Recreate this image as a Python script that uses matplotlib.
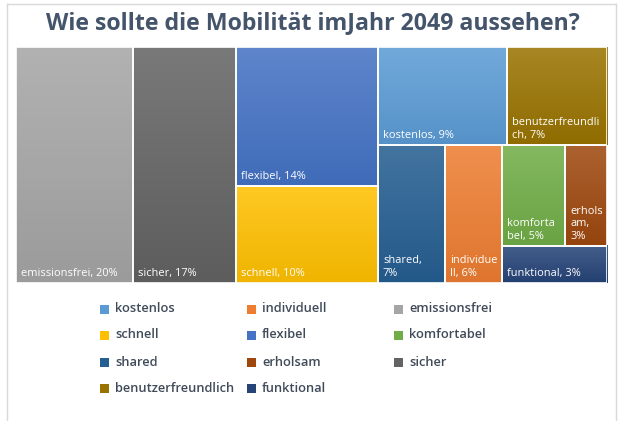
import matplotlib
matplotlib.use("Agg")
import matplotlib.pyplot as plt
import matplotlib.patches as patches
from matplotlib.lines import Line2D
from matplotlib.colors import to_rgb
import numpy as np

plt.rcParams['font.family'] = ['Open Sans', 'DejaVu Sans']

# data (Anteile in %, aus dem Bild geschaetzt)
names = ["kostenlos", "individuell", "emissionsfrei", "schnell", "flexibel",
         "komfortabel", "shared", "erholsam", "sicher", "benutzerfreundlich",
         "funktional"]
values = [9.0, 5.6, 19.8, 9.9, 14.1, 4.6, 6.6, 3.0, 17.2, 7.0, 2.8]
colors = ["#5B9BD5", "#ED7D31", "#A5A5A5", "#FFC000", "#4472C4", "#70AD47",
          "#255E91", "#9E480E", "#636363", "#997300", "#264478"]

# how the labels wrap inside the small boxes
label_fmt = {
    "benutzerfreundlich": "benutzerfreundli\nch, {p}%",
    "shared": "shared,\n{p}%",
    "individuell": "individue\nll, {p}%",
    "komfortabel": "komforta\nbel, {p}%",
    "erholsam": "erhols\nam,\n{p}%",
}

# treemap nesting: level 0 splits horizontally, level 1 vertically, ...
layout = ["emissionsfrei", "sicher", ["flexibel", "schnell"],
          [["kostenlos", "benutzerfreundlich"],
           ["shared", "individuell", [["komfortabel", "erholsam"], "funktional"]]]]

val = dict(zip(names, values))
col = dict(zip(names, colors))
total_all = sum(values)


def node_sum(node):
    if isinstance(node, str):
        return val[node]
    return sum(node_sum(c) for c in node)


rects = {}


def split(node, x, y, w, h, depth):
    if isinstance(node, str):
        rects[node] = (x, y, w, h)
        return
    s = node_sum(node)
    pos = 0.0
    for c in node:
        f = node_sum(c) / s
        if depth % 2 == 0:
            split(c, x + pos * w, y, w * f, h, depth + 1)
        else:
            split(c, x, y + pos * h, w, h * f, depth + 1)
        pos += f


split(layout, 0.0, 0.0, 1.0, 1.0, 0)

W, H = 626, 421
fig = plt.figure(figsize=(W / 100, H / 100), dpi=100)
fig.patch.set_facecolor("white")

# chart frame
frame = "#D9D9D9"
fig.add_artist(Line2D([7 / W, 7 / W], [0, 1 - 4 / H], color=frame, lw=1))
fig.add_artist(Line2D([616 / W, 616 / W], [0, 1 - 4 / H], color=frame, lw=1))
fig.add_artist(Line2D([7 / W, 616 / W], [1 - 4 / H, 1 - 4 / H], color=frame, lw=1))

fig.text(313 / W, 1 - 23 / H, "Wie sollte die Mobilität imJahr 2049 aussehen?",
         ha="center", va="center", fontsize=16.7, fontweight="bold", color="#44546A")

ax = fig.add_axes([16 / W, (H - 283) / H, 591 / W, 236 / H])


def shade(c, amt):
    r = np.array(to_rgb(c))
    if amt > 0:
        return r + (1 - r) * amt
    return r * (1 + amt)


for n in names:
    x, y, w, h = rects[n]
    top = shade(col[n], 0.14)
    bot = shade(col[n], -0.06)
    t = np.linspace(0, 1, 64)[:, None]
    grad = (top[None, :] * (1 - t) + bot[None, :] * t)[:, None, :]
    ax.imshow(grad, extent=(x, x + w, y + h, y), origin="upper",
              aspect="auto", interpolation="bilinear", zorder=1)
    ax.add_patch(patches.Rectangle((x, y), w, h, fill=False,
                                   edgecolor="white", lw=1.2, zorder=2))
    p = round(val[n] / total_all * 100)
    txt = label_fmt.get(n, n + ", {p}%").format(p=p)
    ax.annotate(txt, xy=(x, y + h), xytext=(5, 4), textcoords="offset pixels",
                ha="left", va="bottom", color="white", fontsize=7.9,
                linespacing=1.2, zorder=3)

ax.set_xlim(0, 1)
ax.set_ylim(1, 0)
ax.axis("off")

# legend, row by row in 3 columns
leg_x = [100, 247, 394]
leg_y = [309, 335, 362, 388]
for i, n in enumerate(names):
    cx = leg_x[i % 3]
    cy = leg_y[i // 3]
    fig.add_artist(patches.Rectangle((cx / W, 1 - (cy + 4.5) / H), 9 / W, 9 / H,
                                     transform=fig.transFigure,
                                     facecolor=col[n], edgecolor="none"))
    fig.text((cx + 15) / W, 1 - cy / H, n, ha="left", va="center",
             fontsize=9.3, fontweight="semibold", color="#404B5A")

fig.savefig("out.png", dpi=100)
